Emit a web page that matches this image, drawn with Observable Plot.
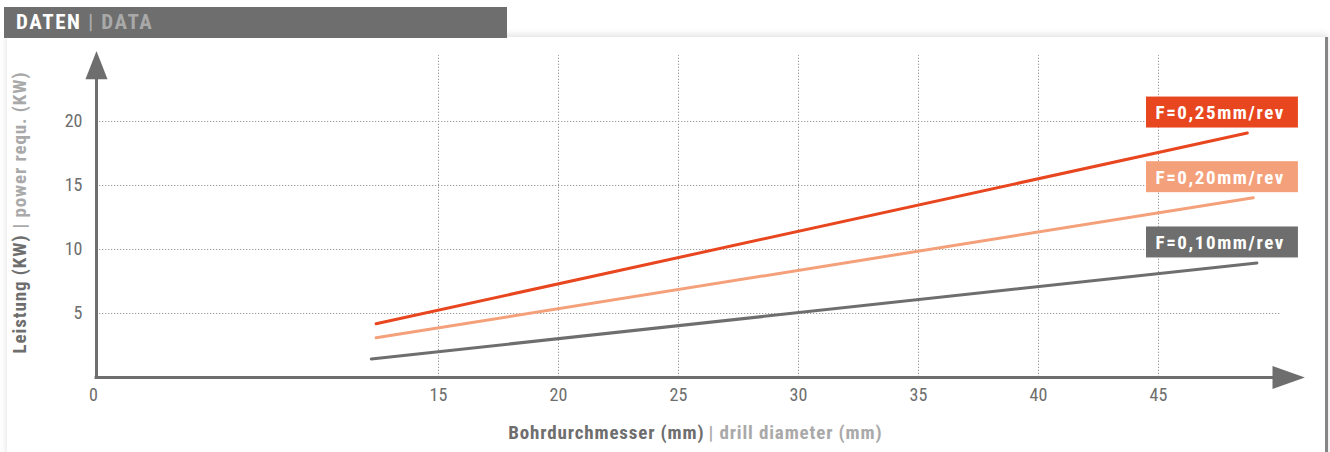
<!DOCTYPE html>
<html><head><meta charset="utf-8">
<script src="https://cdn.jsdelivr.net/npm/d3@7"></script>
<script src="https://cdn.jsdelivr.net/npm/@observablehq/plot@0.6"></script>
<style>
body{margin:0;background:#fff;}
#wrap{position:relative;width:1330px;height:452px;overflow:hidden;font-family:"Roboto Condensed",Roboto,sans-serif;}
#panel{position:absolute;left:7px;top:37px;width:1318px;height:430px;background:#fff;box-shadow:0 -2px 7px rgba(0,0,0,.13);border-right:3px solid #858585;}
#hdr{position:absolute;left:4px;top:7px;width:503px;height:31px;background:#6d6e6d;font-weight:bold;font-size:21px;line-height:31px;color:#fff;padding-left:12px;box-sizing:border-box;letter-spacing:1.6px;}
#hdr span{color:#a9a9a9;}
#chart{position:absolute;left:0;top:0;}
</style></head><body>
<div id="wrap">
  <div id="panel"></div>
  <div id="hdr">DATEN <span>| DATA</span></div>
  <div id="chart"></div>
</div>
<script>
// ---- data ----
const seriesLabels = ["F=0,25mm/rev", "F=0,20mm/rev", "F=0,10mm/rev"];
const seriesColors = ["#e8461f", "#f4a07a", "#6d6e6d"];
const diameterStart = [12.4, 12.4, 12.2];     // mm
const diameterEnd   = [48.7, 48.95, 49.1];    // mm
const powerStart    = [4.2, 3.1, 1.45];       // kW
const powerEnd      = [19.1, 14.05, 8.95];    // kW
const xTicks = [15, 20, 25, 30, 35, 40, 45];
const yTicks = [5, 10, 15, 20];
const originLabel = "0";
const xTitleDe = "Bohrdurchmesser (mm)", xTitleEn = "| drill diameter (mm)";
const yTitleDe = "Leistung (KW)", yTitleEn = "| power requ. (KW)";

// ---- build ----
const axisColor = "#6d6e6d", lightText = "#a9a9a9", gridColor = "#9c9c9c";
const xOrigin = 0.75, xGridEnd = 50.1, yGridTop = 25.15;
const xArrowBase = 49.75, xArrowTip = 51.1, yArrowBase = 23.3, yArrowTip = 25.5;

const lines = [];
seriesLabels.forEach((s, i) => {
  lines.push({s, x: diameterStart[i], y: powerStart[i]});
  lines.push({s, x: diameterEnd[i], y: powerEnd[i]});
});
const boxes = seriesLabels.map((s, i) => ({s, yb: powerEnd[i] + 0.39, yt: powerEnd[i] + 0.39 + 2.42, color: seriesColors[i]}));
const arrows = [
  {a: "x", x: xArrowBase, y: 0.9}, {a: "x", x: xArrowTip, y: 0}, {a: "x", x: xArrowBase, y: -0.9},
  {a: "y", x: xOrigin - 0.46, y: yArrowBase}, {a: "y", x: xOrigin, y: yArrowTip}, {a: "y", x: xOrigin + 0.46, y: yArrowBase}
];
const ff = '"Roboto Condensed", Roboto, sans-serif';

const plot = Plot.plot({
  width: 1330, height: 452,
  marginLeft: 78, marginRight: 52, marginTop: 57, marginBottom: 75,
  style: {background: "transparent", fontFamily: ff},
  x: {domain: [0, 50], axis: null},
  y: {domain: [0, 25], axis: null},
  color: {domain: seriesLabels, range: seriesColors},
  marks: [
    Plot.ruleX(xTicks, {y1: 0, y2: yGridTop, stroke: gridColor, strokeWidth: 1, strokeDasharray: "1.3,1.7"}),
    Plot.ruleY(yTicks, {x1: xOrigin, x2: xGridEnd, stroke: gridColor, strokeWidth: 1, strokeDasharray: "1.3,1.7"}),
    Plot.ruleY([0], {x1: xOrigin - 0.06, x2: xArrowBase + 0.1, stroke: axisColor, strokeWidth: 3}),
    Plot.ruleX([xOrigin], {y1: 0 - 0.12, y2: yArrowBase + 0.1, stroke: axisColor, strokeWidth: 3}),
    Plot.line(arrows, {x: "x", y: "y", z: "a", fill: axisColor, stroke: "none"}),
    Plot.line(lines, {x: "x", y: "y", z: "s", stroke: "s", strokeWidth: 3}),
    Plot.rect(boxes, {x1: 44.5, x2: 50.83, y1: "yb", y2: "yt", fill: "s"}),
    Plot.text(boxes, {x: 44.5, y: d => (d.yb + d.yt) / 2, text: "s", dx: 9, dy: 0.5, textAnchor: "start", fill: "white", fontWeight: "bold", fontSize: 19, fontFamily: ff}),
    Plot.text(yTicks, {x: xOrigin, y: d => d, text: d => String(d), dx: -14, textAnchor: "end", fill: axisColor, fontSize: 18, fontFamily: ff}),
    Plot.text(xTicks, {x: d => d, y: 0, text: d => String(d), dy: 18, fill: axisColor, fontSize: 18, fontFamily: ff}),
    Plot.text([originLabel], {x: xOrigin, y: 0, text: d => d, dx: -3, dy: 18, fill: axisColor, fontSize: 18, fontFamily: ff}),
    Plot.text([xTitleDe], {x: 26.25, y: -4.3, text: d => d, dx: -4, textAnchor: "end", fill: axisColor, fontWeight: "bold", fontSize: 19, fontFamily: ff}),
    Plot.text([xTitleEn], {x: 26.25, y: -4.3, text: d => d, dx: 0, textAnchor: "start", fill: lightText, fontWeight: "bold", fontSize: 19, fontFamily: ff}),
    Plot.text([yTitleDe], {x: -2.46, y: 11.56, text: d => d, dy: 5, rotate: -90, textAnchor: "end", fill: axisColor, fontWeight: "bold", fontSize: 19, fontFamily: ff}),
    Plot.text([yTitleEn], {x: -2.46, y: 11.56, text: d => d, dy: -1, rotate: -90, textAnchor: "start", fill: lightText, fontWeight: "bold", fontSize: 19, fontFamily: ff})
  ]
});
// letter spacing to mimic the wider condensed face of the original
const spacing = new Map([
  ...seriesLabels.map(s => [s, 1.6]),
  [xTitleDe, 0.85], [xTitleEn, 0.85], [yTitleDe, 0.9], [yTitleEn, 0.9]
]);
plot.querySelectorAll("text").forEach(t => {
  const ls = spacing.get(t.textContent);
  if (ls != null) t.setAttribute("letter-spacing", ls);
});
document.getElementById("chart").appendChild(plot);
</script>
</body></html>
